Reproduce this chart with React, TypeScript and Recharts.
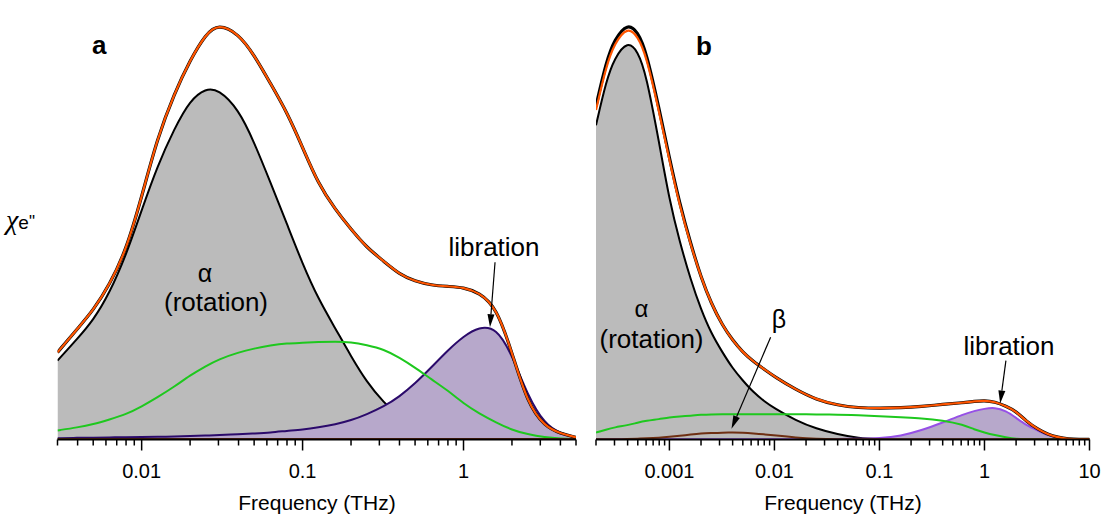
import React from 'react';
import { ComposedChart, Area, Line, XAxis, YAxis, ReferenceLine } from 'recharts';

// ---------- Panel a data ----------
const freqA = [0.003, 0.004, 0.005, 0.0063, 0.008, 0.01, 0.0125, 0.016, 0.02, 0.025, 0.03, 0.04, 0.05, 0.063, 0.08, 0.1, 0.125, 0.16, 0.2, 0.25, 0.32, 0.4, 0.5, 0.63, 0.8, 1, 1.25, 1.6, 2, 2.5, 3.2, 4, 5];
const totalA = [20.1, 25.6, 29.8, 35.6, 43.6, 55.9, 69.5, 79.9, 87.5, 93.5, 95.9, 93.6, 88.7, 82.2, 75.5, 67.4, 59.0, 53.0, 48.5, 44.3, 41.1, 38.1, 36.5, 35.6, 35.3, 35.1, 33.9, 30.5, 20.1, 8.3, 3.0, 1.4, 0.5];
const alphaA = [18.2, 23.3, 27.5, 33.7, 42.5, 52.9, 63.0, 71.8, 78.3, 81.0, 80.8, 76.2, 68.6, 59.4, 49.7, 40.5, 32.5, 25.6, 19.2, 13.3, 8.5, 5.2, 2.9, 1.8, 1.2, 0.7, 0.5, 0.3, 0.2, 0.1, 0.1, 0.1, 0.1];
const fastA = [2.1, 2.8, 3.5, 4.6, 5.8, 7.6, 9.7, 12.2, 14.8, 16.9, 18.5, 20.1, 21.0, 21.7, 22.2, 22.3, 22.5, 22.6, 22.5, 21.8, 20.8, 18.9, 16.6, 13.9, 11.3, 8.3, 6.0, 3.9, 2.2, 1.2, 0.5, 0.2, 0.1];
const librationA = [0.3, 0.4, 0.4, 0.5, 0.5, 0.6, 0.6, 0.7, 0.8, 0.9, 1.0, 1.2, 1.4, 1.6, 2.0, 2.3, 2.8, 3.5, 4.4, 5.8, 7.6, 9.9, 12.9, 16.6, 20.6, 23.8, 26.0, 25.8, 19.6, 10.2, 3.5, 1.4, 0.5];
const betaA = [0.1, 0.1, 0.1, 0.1, 0.1, 0.1, 0.1, 0.1, 0.1, 0.1, 0.1, 0.1, 0.1, 0.1, 0.1, 0.1, 0.1, 0.1, 0.1, 0.1, 0.1, 0.1, 0.1, 0.1, 0.1, 0.1, 0.1, 0.1, 0.1, 0.1, 0.1, 0.1, 0.1];
const ticksA = [0.003, 0.004, 0.005, 0.006, 0.007, 0.008, 0.009, 0.01, 0.02, 0.03, 0.04, 0.05, 0.06, 0.07, 0.08, 0.09, 0.1, 0.2, 0.3, 0.4, 0.5, 0.6, 0.7, 0.8, 0.9, 1, 2, 3, 4, 5];
const majorA = [0.01, 0.1, 1];
const majorLabelsA = ['0.01', '0.1', '1'];
const arrowLibA = [{ x: 1.57, y: 40.9 }, { x: 1.46, y: 25.9 }];

// ---------- Panel b data ----------
const freqB = [0.0002, 0.00025, 0.0003, 0.0004, 0.0005, 0.0006, 0.0008, 0.001, 0.00125, 0.0016, 0.002, 0.0025, 0.0032, 0.004, 0.005, 0.0063, 0.008, 0.01, 0.016, 0.025, 0.04, 0.063, 0.1, 0.16, 0.25, 0.4, 0.63, 0.8, 1, 1.25, 1.6, 2, 2.5, 3.2, 4, 5, 6.3, 8, 10];
const totalB = [76.0, 86.1, 91.4, 95.3, 93.0, 88.7, 75.5, 64.4, 54.0, 44.8, 37.4, 31.4, 26.3, 22.9, 20.1, 18.0, 16.2, 14.5, 11.5, 9.2, 7.9, 7.3, 7.2, 7.3, 7.6, 8.1, 8.5, 8.8, 9.0, 8.7, 7.7, 6.5, 4.2, 2.4, 1.2, 0.5, 0.1, 0.05, 0.05];
const measuredB = [76.9, 87.1, 92.3, 96.1, 94.0, 89.6, 76.2, 64.9, 54.5, 45.0, 37.4, 31.4, 26.3, 22.9, 20.1, 18.0, 16.2, 14.5, 11.5, 9.2, 7.9, 7.3, 7.2, 7.3, 7.6, 8.1, 8.5, 8.8, 9.0, 8.7, 7.7, 6.5, 4.2, 2.4, 1.2, 0.5, 0.1, 0.05, 0.05];
const alphaB = [72.5, 82.7, 88.0, 92.0, 89.6, 84.3, 68.4, 55.2, 45.7, 36.7, 30.0, 24.5, 20.1, 16.4, 13.6, 10.9, 8.8, 7.2, 4.4, 2.5, 1.2, 0.3, 0.1, 0.05, 0.05, 0.05, 0.05, 0.05, 0.05, 0.05, 0.05, 0.05, 0.05, 0.05, 0.05, 0.05, 0.05, 0.05, 0.05];
const fastB = [1.6, 2.3, 2.8, 3.3, 3.9, 4.3, 4.7, 5.1, 5.3, 5.5, 5.7, 5.8, 5.8, 5.8, 5.8, 5.8, 5.8, 5.8, 5.8, 5.8, 5.7, 5.6, 5.4, 5.1, 4.9, 4.4, 3.4, 2.3, 1.6, 1.0, 0.5, 0.1, 0.05, 0.05, 0.05, 0.05, 0.05, 0.05, 0.05];
const betaB = [0.05, 0.05, 0.05, 0.1, 0.2, 0.25, 0.4, 0.6, 0.85, 1.15, 1.4, 1.5, 1.6, 1.6, 1.55, 1.4, 1.2, 0.95, 0.45, 0.15, 0.05, 0.05, 0.05, 0.05, 0.05, 0.05, 0.05, 0.05, 0.05, 0.05, 0.05, 0.05, 0.05, 0.05, 0.05, 0.05, 0.05, 0.05, 0.05];
const librationB = [0.05, 0.05, 0.05, 0.05, 0.05, 0.05, 0.05, 0.05, 0.05, 0.05, 0.05, 0.05, 0.05, 0.05, 0.05, 0.05, 0.05, 0.05, 0.05, 0.07, 0.1, 0.2, 0.3, 0.8, 2.1, 3.9, 5.8, 6.6, 7.1, 7.4, 6.6, 5.0, 3.3, 2.1, 1.0, 0.35, 0.1, 0.05, 0.05];
const ticksB = [0.0002, 0.0003, 0.0004, 0.0005, 0.0006, 0.0007, 0.0008, 0.0009, 0.001, 0.002, 0.003, 0.004, 0.005, 0.006, 0.007, 0.008, 0.009, 0.01, 0.02, 0.03, 0.04, 0.05, 0.06, 0.07, 0.08, 0.09, 0.1, 0.2, 0.3, 0.4, 0.5, 0.6, 0.7, 0.8, 0.9, 1, 2, 3, 4, 5, 6, 7, 8, 9, 10];
const majorB = [0.001, 0.01, 0.1, 1, 10];
const majorLabelsB = ['0.001', '0.01', '0.1', '1', '10'];
const arrowBetaB = [{ x: 0.0092, y: 23.6 }, { x: 0.0039, y: 2.5 }];
const arrowLibB = [{ x: 1.6, y: 18.2 }, { x: 1.41, y: 8.3 }];

const FONT = '"Liberation Sans", Arial, Helvetica, sans-serif';
const CURVE = 'basis';

const rowsA = freqA.map((f, i) => ({ f, total: totalA[i], alpha: alphaA[i], fast: fastA[i], libration: librationA[i], beta: betaA[i] }));
const rowsB = freqB.map((f, i) => ({ f, total: totalB[i], measured: measuredB[i], alpha: alphaB[i], fast: fastB[i], libration: librationB[i], beta: betaB[i] }));

const makeTick = (majors: number[], labels: string[]) => (props: any) => {
  const { x, y, payload } = props;
  const v = payload.value;
  const idx = majors.findIndex((m) => Math.abs(m - v) / m < 1e-6);
  const major = idx >= 0;
  return (
    <g>
      <line x1={x} x2={x} y1={y} y2={y + (major ? 11 : 6)} stroke="#000" strokeWidth={1.5} />
      {major && (
        <text x={x} y={y + 38.5} textAnchor="middle" fontSize={20} fontFamily={FONT} fill="#000">
          {labels[idx]}
        </text>
      )}
    </g>
  );
};

const Arrow = (p: any) => {
  const { x1, y1, x2, y2 } = p;
  const ang = Math.atan2(y2 - y1, x2 - x1);
  const len = 13;
  const w = 3.5;
  const bx = x2 - len * Math.cos(ang);
  const by = y2 - len * Math.sin(ang);
  const px = -Math.sin(ang) * w;
  const py = Math.cos(ang) * w;
  return (
    <g>
      <line x1={x1} y1={y1} x2={bx} y2={by} stroke="#000" strokeWidth={1.2} />
      <polygon points={`${x2},${y2} ${bx + px},${by + py} ${bx - px},${by - py}`} fill="#000" />
    </g>
  );
};

const boxLine = { stroke: '#000', strokeWidth: 2 };

type PanelProps = {
  rows: any[];
  domain: [number, number];
  ticks: number[];
  majors: number[];
  labels: string[];
  left: number;
  right: number;
  libColor: string;
  measuredKey: string;
  arrows: { x: number; y: number }[][];
};

const Panel = ({ rows, domain, ticks, majors, labels, left, right, libColor, measuredKey, arrows }: PanelProps) => (
  <div style={{ position: 'absolute', left: 0, top: 0 }}>
    <ComposedChart width={1104} height={520} data={rows} margin={{ top: 6, left, right, bottom: 40.5 }}>
      <XAxis
        dataKey="f"
        type="number"
        scale="log"
        domain={domain}
        allowDataOverflow
        ticks={ticks}
        interval={0}
        tickSize={0}
        tickMargin={0}
        height={40}
        tick={makeTick(majors, labels)}
        tickLine={false}
        axisLine={boxLine}
      />
      <XAxis xAxisId="top" orientation="top" dataKey="f" type="number" scale="log" domain={domain} allowDataOverflow height={0} tick={false} tickLine={false} axisLine={boxLine} />
      <YAxis yAxisId="l" type="number" domain={[0, 100]} allowDataOverflow width={0} tick={false} tickLine={false} axisLine={boxLine} />
      <YAxis yAxisId="r" orientation="right" type="number" domain={[0, 100]} allowDataOverflow width={0} tick={false} tickLine={false} axisLine={boxLine} />
      <Area yAxisId="l" type={CURVE} dataKey="alpha" stroke="#000" strokeWidth={2} fill="#bbbbbb" fillOpacity={1} dot={false} activeDot={false} isAnimationActive={false} />
      <Area yAxisId="l" type={CURVE} dataKey="libration" stroke={libColor} strokeWidth={2} fill="#b7a8cb" fillOpacity={1} dot={false} activeDot={false} isAnimationActive={false} />
      <Line yAxisId="l" type={CURVE} dataKey="fast" stroke="#1ec81e" strokeWidth={2} dot={false} activeDot={false} isAnimationActive={false} />
      <Line yAxisId="l" type={CURVE} dataKey="beta" stroke="#6e2f12" strokeWidth={2} dot={false} activeDot={false} isAnimationActive={false} />
      <Line yAxisId="l" type={CURVE} dataKey={measuredKey} stroke="#000" strokeWidth={3.2} dot={false} activeDot={false} isAnimationActive={false} />
      <Line yAxisId="l" type={CURVE} dataKey="total" stroke="#ff5500" strokeWidth={2.2} dot={false} activeDot={false} isAnimationActive={false} />
      {arrows.map((seg, i) => (
        <ReferenceLine key={i} yAxisId="l" segment={seg} ifOverflow="visible" shape={Arrow} />
      ))}
    </ComposedChart>
  </div>
);

export default function App() {
  return (
    <div style={{ position: 'absolute', left: 0, top: 0, width: 1104, height: 520, background: '#fff' }}>
      <Panel rows={rowsA} domain={[0.003, 5]} ticks={ticksA} majors={majorA} labels={majorLabelsA} left={57.5} right={528} libColor="#2b0a6b" measuredKey="total" arrows={[arrowLibA]} />
      <Panel rows={rowsB} domain={[0.0002, 10]} ticks={ticksB} majors={majorB} labels={majorLabelsB} left={596} right={14.5} libColor="#9650e6" measuredKey="measured" arrows={[arrowBetaB, arrowLibB]} />
      <svg width={1104} height={520} style={{ position: 'absolute', left: 0, top: 0, pointerEvents: 'none' }}>
        <g fontFamily={FONT} fill="#000">
          <text x={92} y={54} fontSize={26} fontWeight="bold">a</text>
          <text x={696} y={55} fontSize={26} fontWeight="bold">b</text>
          <text x={205} y={282} fontSize={25} textAnchor="middle">α</text>
          <text x={216} y={311} fontSize={26} textAnchor="middle">(rotation)</text>
          <text x={494} y={256} fontSize={26} textAnchor="middle">libration</text>
          <text x={641.5} y={317} fontSize={24} textAnchor="middle">α</text>
          <text x={651.5} y={348} fontSize={26} textAnchor="middle">(rotation)</text>
          <text x={779} y={328} fontSize={25} textAnchor="middle">β</text>
          <text x={1009} y={355} fontSize={26} textAnchor="middle">libration</text>
          <text x={317} y={510} fontSize={21} textAnchor="middle">Frequency (THz)</text>
          <text x={843} y={510} fontSize={21} textAnchor="middle">Frequency (THz)</text>
          <text x={6} y={229}>
            <tspan fontSize={28} fontStyle="italic" fontFamily='"Liberation Serif", "DejaVu Serif", serif'>χ</tspan>
            <tspan fontSize={19}>e</tspan>
            <tspan fontSize={17} dy={-2}>"</tspan>
          </text>
        </g>
      </svg>
    </div>
  );
}
